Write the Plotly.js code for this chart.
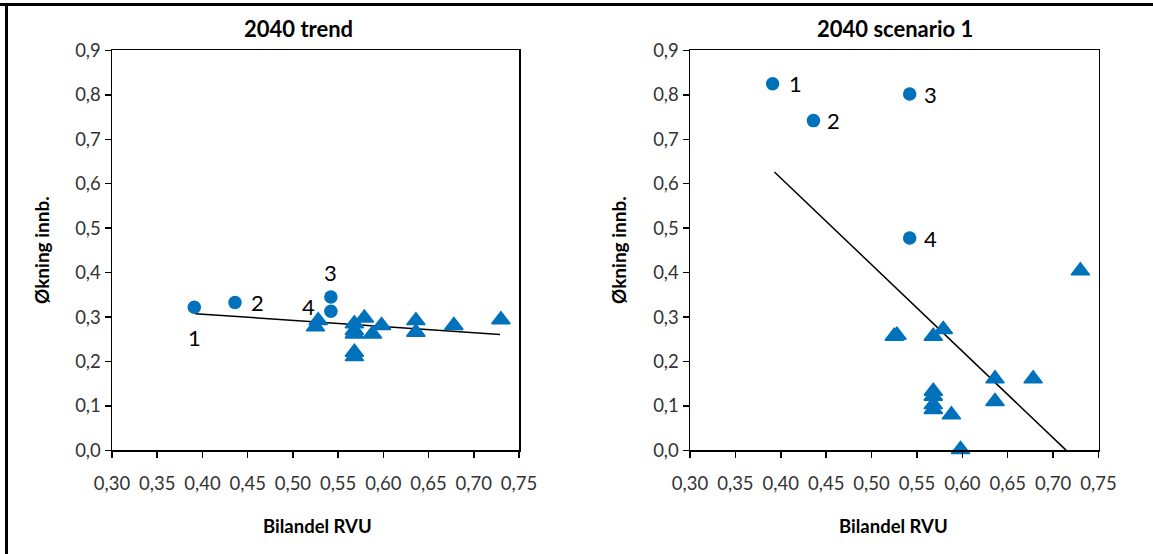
<!DOCTYPE html>
<html>
<head>
<meta charset="utf-8">
<script src="https://cdn.plot.ly/plotly-3.0.1.min.js"></script>
<style>
  html, body { margin: 0; padding: 0; background: #ffffff; }
  #chart { width: 1153px; height: 554px; }
</style>
</head>
<body>
<div id="chart"></div>
<script>
// ---- Data ----
const chartTitles = ['2040 trend', '2040 scenario 1'];
const xAxisTitle = 'Bilandel RVU';
const yAxisTitle = 'Økning innb.';

const pointLabels = ['1', '2', '3', '4'];
const circleX = [0.391, 0.436, 0.542, 0.542];
const circleYTrend = [0.322, 0.333, 0.345, 0.313];
const circleYScen1 = [0.825, 0.742, 0.802, 0.478];

const triangleX = [0.525, 0.528, 0.568, 0.568, 0.568, 0.568, 0.568, 0.579, 0.588, 0.598, 0.636, 0.636, 0.678, 0.730];
const triangleYTrend = [0.278, 0.292, 0.285, 0.270, 0.262, 0.221, 0.211, 0.298, 0.262, 0.281, 0.292, 0.266, 0.281, 0.294];
const triangleYScen1 = [0.257, 0.259, 0.257, 0.133, 0.122, 0.103, 0.092, 0.272, 0.080, 0.002, 0.161, 0.110, 0.161, 0.404];

const trendLineXTrend = [0.392, 0.729];
const trendLineYTrend = [0.3075, 0.261];
const trendLineXScen1 = [0.393, 0.7145];
const trendLineYScen1 = [0.6265, 0.0];

const xTickVals = [0.30, 0.35, 0.40, 0.45, 0.50, 0.55, 0.60, 0.65, 0.70, 0.75];
const yTickVals = [0.0, 0.1, 0.2, 0.3, 0.4, 0.5, 0.6, 0.7, 0.8, 0.9];

// ---- Styling ----
const W = 1153, H = 554;
const px = v => v / W;
const py = v => 1 - v / H;
const BLUE = '#0071BB';
const FONT = 'Lato, "Open Sans", sans-serif';

function markerTraces(xa, ya, cy, ty, lx, ly) {
  return [
    { type: 'scatter', mode: 'lines', x: lx, y: ly, xaxis: xa, yaxis: ya,
      line: { color: '#000000', width: 1.5 }, hoverinfo: 'skip', showlegend: false },
    { type: 'scatter', mode: 'markers', x: triangleX, y: ty, xaxis: xa, yaxis: ya,
      marker: { symbol: 'triangle-up', size: 16, color: BLUE, line: { color: BLUE, width: 1.5 } },
      cliponaxis: false, showlegend: false },
    { type: 'scatter', mode: 'markers', x: circleX, y: cy, xaxis: xa, yaxis: ya,
      marker: { symbol: 'circle', size: 13.5, color: BLUE },
      cliponaxis: false, showlegend: false }
  ];
}

const data = [
  ...markerTraces('x', 'y', circleYTrend, triangleYTrend, trendLineXTrend, trendLineYTrend),
  ...markerTraces('x2', 'y2', circleYScen1, triangleYScen1, trendLineXScen1, trendLineYScen1)
];

const yDomain = [py(450.4), py(50.4)];

function xAxis(domain, anchor) {
  return {
    domain: domain, anchor: anchor, range: [0.30, 0.75],
    tickvals: xTickVals, tickformat: '.2f',
    showgrid: false, zeroline: false,
    showline: true, mirror: true, linecolor: '#000000', linewidth: 1.5,
    ticks: 'outside', ticklen: 6, tickwidth: 1.5, tickcolor: '#000000',
    ticklabelstandoff: 10,
    tickfont: { family: FONT, size: 18.5, color: '#333333' },
    fixedrange: true
  };
}
function yAxis(anchor) {
  return {
    domain: yDomain, anchor: anchor, range: [0, 0.9],
    tickvals: yTickVals, tickformat: '.1f',
    showgrid: false, zeroline: false,
    showline: true, mirror: true, linecolor: '#000000', linewidth: 1.5,
    ticks: 'outside', ticklen: 6, tickwidth: 1.5, tickcolor: '#000000',
    tickfont: { family: FONT, size: 18.5, color: '#333333' },
    fixedrange: true
  };
}

const annotations = [];
// Chart titles
[[298, chartTitles[0]], [895, chartTitles[1]]].forEach(([cx, t]) => {
  annotations.push({ xref: 'paper', yref: 'paper', x: px(cx), y: py(28), text: '<b>' + t + '</b>',
    showarrow: false, xanchor: 'center', yanchor: 'middle',
    font: { family: FONT, size: 22, color: '#000000' } });
});
// Axis titles
[[42, 317], [619, 894]].forEach(([yx, xx]) => {
  annotations.push({ xref: 'paper', yref: 'paper', x: px(yx), y: py(250), text: '<b>' + yAxisTitle + '</b>',
    textangle: -90, showarrow: false, xanchor: 'center', yanchor: 'middle',
    font: { family: FONT, size: 19, color: '#000000' } });
  annotations.push({ xref: 'paper', yref: 'paper', x: px(xx), y: py(526), text: '<b>' + xAxisTitle + '</b>',
    showarrow: false, xanchor: 'center', yanchor: 'middle',
    font: { family: FONT, size: 18.5, color: '#000000' } });
});
// Point labels, left chart (trend)
const leftShift = [[0, -30], [22, 0], [0, 25], [-22, 5]];
pointLabels.forEach((lab, i) => {
  const a = { xref: 'x', yref: 'y', x: circleX[i], y: circleYTrend[i], text: lab,
    font: { family: FONT, size: 22, color: '#000000' } };
  if (i === 3) {
    Object.assign(a, { showarrow: true, ax: leftShift[i][0], ay: -leftShift[i][1],
      arrowhead: 0, arrowwidth: 1, arrowcolor: '#8a8a8a', standoff: 7, startstandoff: 11 });
  } else {
    Object.assign(a, { showarrow: false, xshift: leftShift[i][0], yshift: leftShift[i][1] });
  }
  annotations.push(a);
});
// Point labels, right chart (scenario 1)
const rightShift = [[23, 0], [20, 0], [21, -1], [21, -1]];
pointLabels.forEach((lab, i) => {
  annotations.push({ xref: 'x2', yref: 'y2', x: circleX[i], y: circleYScen1[i], text: lab,
    showarrow: false, xshift: rightShift[i][0], yshift: rightShift[i][1],
    font: { family: FONT, size: 22, color: '#000000' } });
});

const layout = {
  width: W, height: H,
  margin: { l: 0, r: 0, t: 0, b: 0 },
  paper_bgcolor: '#ffffff', plot_bgcolor: '#ffffff',
  separators: ',.',
  showlegend: false,
  xaxis: xAxis([px(112), px(519)], 'y'),
  yaxis: yAxis('x'),
  xaxis2: xAxis([px(690), px(1098.5)], 'y2'),
  yaxis2: yAxis('x2'),
  annotations: annotations,
  shapes: [
    { type: 'line', xref: 'paper', yref: 'paper', x0: 0, x1: 1, y0: py(4.5), y1: py(4.5),
      line: { color: '#000000', width: 3 } },
    { type: 'line', xref: 'paper', yref: 'paper', x0: px(6.5), x1: px(6.5), y0: py(3), y1: 0,
      line: { color: '#000000', width: 3 } }
  ]
};

Plotly.newPlot('chart', data, layout, { displayModeBar: false, staticPlot: true });
</script>
</body>
</html>
